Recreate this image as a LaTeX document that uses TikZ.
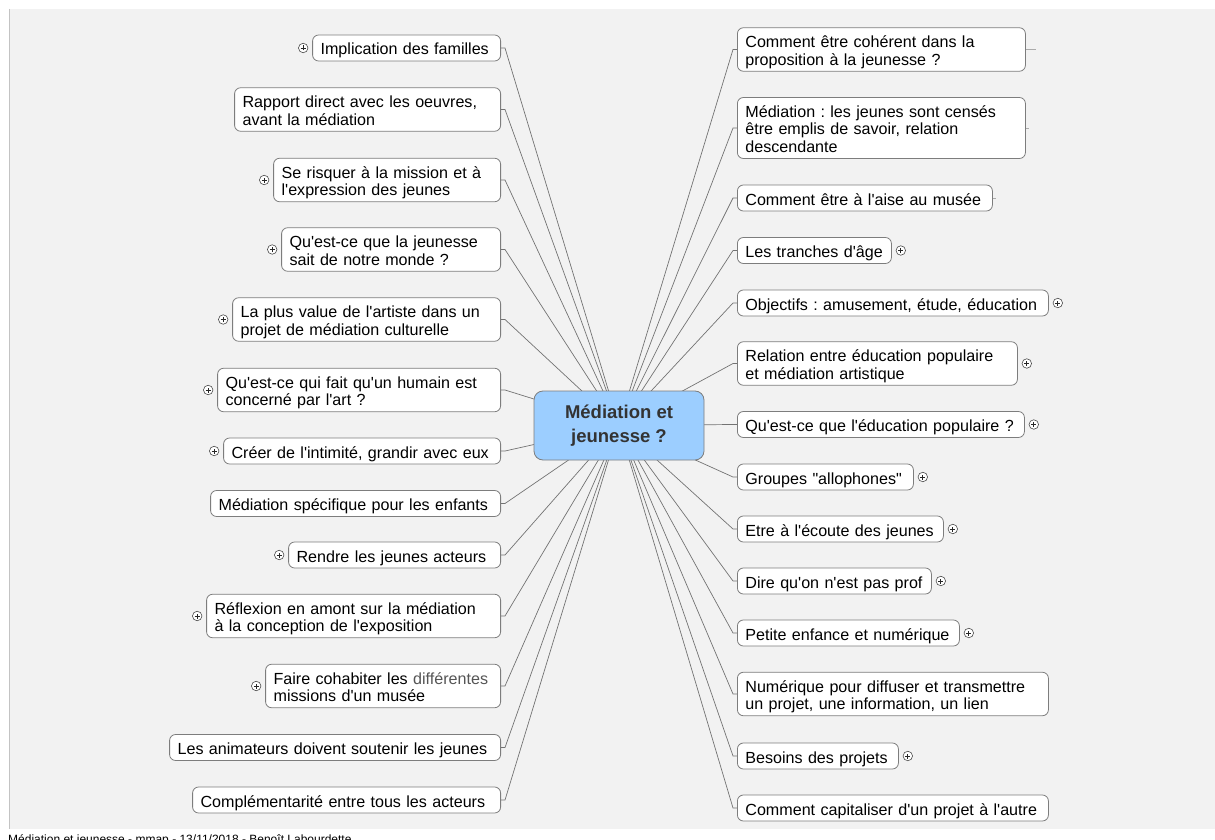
\documentclass[tikz,border=0pt]{standalone}
\usepackage{fontspec}
\setmainfont{Liberation Sans}[Ligatures=TeXOff]
\definecolor{panel}{RGB}{242,242,242}
\definecolor{panelline}{RGB}{195,195,195}
\definecolor{boxline}{RGB}{125,125,125}
\definecolor{connc}{RGB}{115,115,115}
\definecolor{centerfill}{RGB}{156,206,255}
\definecolor{centertext}{RGB}{51,51,51}
\definecolor{softtext}{RGB}{85,85,85}
\pgfdeclarelayer{bg}
\pgfdeclarelayer{edges}
\pgfsetlayers{bg,edges,main}
\newcommand{\tlines}[1]{\begin{tabular}{@{}l@{}}\rule{0pt}{19.25pt}#1\end{tabular}}
\tikzset{
  topic/.style={draw=boxline, fill=white, rounded corners=6pt, line width=0.8pt,
    inner xsep=8pt, inner ysep=0.75pt, align=left, text=black,
    font=\fontsize{16.1}{17.5}\selectfont\frenchspacing},
  lefttopic/.style={topic, anchor=east},
  righttopic/.style={topic, anchor=west},
  conn/.style={draw=connc, line width=0.7pt},
  plusicon/.style={circle, draw=black!70, fill=white, line width=0.6pt,
    minimum size=9.5pt, inner sep=0pt,
    path picture={\draw[black!85, line width=0.8pt]
      ([xshift=-2.5pt]path picture bounding box.center) -- ([xshift=2.5pt]path picture bounding box.center)
      ([yshift=-2.5pt]path picture bounding box.center) -- ([yshift=2.5pt]path picture bounding box.center);}},
  centertopic/.style={draw=boxline, fill=centerfill, rounded corners=9pt, line width=0.8pt,
    minimum width=170pt, minimum height=69pt, align=center, text=centertext,
    font=\bfseries\fontsize{18.5}{24}\selectfont}
}
\begin{document}
\begin{tikzpicture}[x=1pt,y=-1pt]
\useasboundingbox (0,0) rectangle (1215,840);
\begin{pgfonlayer}{bg}
  \fill[white] (0,0) rectangle (1215,840);
  \fill[panel] (9,9) rectangle (1215,829);
  \draw[panelline, line width=1pt] (9.5,9) -- (9.5,829);
\end{pgfonlayer}

% center
\node[centertopic] (c) at (619,425.5) {Médiation et\\jeunesse ?};

% left topics
\node[lefttopic, text width=172pt] (L1) at (501,48) {\tlines{Implication des familles}};
\node[lefttopic, text width=250pt] (L2) at (501,109.5) {\tlines{Rapport direct avec les oeuvres,\\avant la médiation}};
\node[lefttopic, text width=211pt] (L3) at (501,180) {\tlines{Se risquer à la mission et à\\l'expression des jeunes}};
\node[lefttopic, text width=203pt] (L4) at (501,249.5) {\tlines{Qu'est-ce que la jeunesse\\sait de notre monde ?}};
\node[lefttopic, text width=252pt] (L5) at (501,319.5) {\tlines{La plus value de l'artiste dans un\\projet de médiation culturelle}};
\node[lefttopic, text width=267pt] (L6) at (501,390) {\tlines{Qu'est-ce qui fait qu'un humain est\\concerné par l'art ?}};
\node[lefttopic, text width=261pt] (L7) at (501,451) {\tlines{Créer de l'intimité, grandir avec eux}};
\node[lefttopic, text width=274pt] (L8) at (501,503.5) {\tlines{Médiation spécifique pour les enfants}};
\node[lefttopic, text width=196pt] (L9) at (501,555) {\tlines{Rendre les jeunes acteurs}};
\node[lefttopic, text width=278pt] (L10) at (501,616) {\tlines{Réflexion en amont sur la médiation\\à la conception de l'exposition}};
\node[lefttopic, text width=219pt] (L11) at (501,686) {\tlines{Faire cohabiter les \textcolor{softtext}{différentes}\\missions d'un musée}};
\node[lefttopic, text width=315pt] (L12) at (501,747.5) {\tlines{Les animateurs doivent soutenir les jeunes}};
\node[lefttopic, text width=292pt] (L13) at (501,800) {\tlines{Complémentarité entre tous les acteurs}};

% right topics
\node[righttopic, text width=272pt] (R1) at (737,49.5) {\tlines{Comment être cohérent dans la\\proposition à la jeunesse ?}};
\node[righttopic, text width=272pt] (R2) at (737,128) {\tlines{Médiation : les jeunes sont censés\\être emplis de savoir, relation\\descendante}};
\node[righttopic, text width=239pt] (R3) at (737,198) {\tlines{Comment être à l'aise au musée}};
\node[righttopic, text width=138pt] (R4) at (737,250.5) {\tlines{Les tranches d'âge}};
\node[righttopic, text width=295pt] (R5) at (737,303) {\tlines{Objectifs : amusement, étude, éducation}};
\node[righttopic, text width=264pt] (R6) at (737,363.5) {\tlines{Relation entre éducation populaire\\et médiation artistique}};
\node[righttopic, text width=271pt] (R7) at (737,424.5) {\tlines{Qu'est-ce que l'éducation populaire ?}};
\node[righttopic, text width=160pt] (R8) at (737,477) {\tlines{Groupes "allophones"}};
\node[righttopic, text width=190pt] (R9) at (737,529) {\tlines{Etre à l'écoute des jeunes}};
\node[righttopic, text width=178pt] (R10) at (737,581) {\tlines{Dire qu'on n'est pas prof}};
\node[righttopic, text width=206pt] (R11) at (737,633) {\tlines{Petite enfance et numérique}};
\node[righttopic, text width=295pt] (R12) at (737,694) {\tlines{Numérique pour diffuser et transmettre\\un projet, une information, un lien}};
\node[righttopic, text width=145pt] (R13) at (737,756) {\tlines{Besoins des projets}};
\node[righttopic, text width=295pt] (R14) at (737,808) {\tlines{Comment capitaliser d'un projet à l'autre}};

% connectors
\begin{pgfonlayer}{edges}
  \foreach \n in {L1,L2,L3,L4,L5,L6,L7,L8,L9,L10,L11,L12,L13}
    \draw[conn] (\n.east) -- ++(4,0) -- (c.center);
  \foreach \n in {R1,R2,R3,R4,R5,R6,R7,R8,R9,R10,R11,R12,R13,R14}
    \draw[conn] (\n.west) -- ++(-4,0) -- (c.center);
  \draw[conn, draw=connc!60] (R1.east) -- ++(10,0);
  \draw[conn, draw=connc!60] (R2.east) -- ++(3,0);
  \draw[conn, draw=connc!60] (R3.east) -- ++(3,0);
\end{pgfonlayer}

% expand icons
\foreach \n in {L1,L3,L4,L5,L6,L7,L9,L10,L11}
  \node[plusicon] (p\n) at ([xshift=-9pt]\n.west) {};
\foreach \n in {R4,R5,R6,R7,R8,R9,R10,R11,R13}
  \node[plusicon] (p\n) at ([xshift=9pt]\n.east) {};

% footer
\node[anchor=base west, inner sep=0pt, font=\fontsize{12}{14}\selectfont\frenchspacing, text=black] (footer) at (8,843) {Médiation et jeunesse - mmap - 13/11/2018 - Benoît Labourdette};
\end{tikzpicture}
\end{document}
